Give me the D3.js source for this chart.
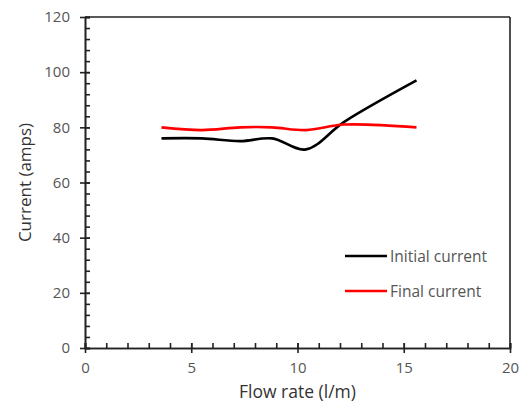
<!DOCTYPE html>
<html><head><meta charset="utf-8">
<script src="https://cdn.jsdelivr.net/npm/d3@7"></script>
<style>body{margin:0;background:#fff}svg{display:block}</style>
</head><body>
<svg id="c" width="526" height="412"></svg>
<script>
const flowRate = [3.6, 5.5, 7.3, 8.8, 10.4, 12.2, 15.6];
const initialCurrent = [76, 76, 75, 76, 72, 82, 97];
const finalCurrent = [80, 79, 80, 80, 79, 81, 80];
const xTicks = [0, 5, 10, 15, 20];
const yTicks = [0, 20, 40, 60, 80, 100, 120];
const seriesNames = ["Initial current", "Final current"];
const seriesColors = ["#000000", "#ff0000"];

const svg = d3.select("#c");
const m = {l: 85, r: 16, t: 17, b: 64};
const W = 526, H = 412;
const x = d3.scaleLinear().domain([0, 20]).range([m.l, W - m.r]);
const y = d3.scaleLinear().domain([0, 120]).range([H - m.b, m.t]);
const font = "'Open Sans', sans-serif";
const axisCol = "#222";
const textCol = "#555";

// frame (top and right)
svg.append("line").attr("x1", x(0)).attr("x2", x(20)).attr("y1", y(120)).attr("y2", y(120)).attr("stroke", axisCol).attr("stroke-width", 1.6);
svg.append("line").attr("x1", x(20)).attr("x2", x(20)).attr("y1", y(120)).attr("y2", y(0)).attr("stroke", axisCol).attr("stroke-width", 1.6);

// minor ticks
const gx = svg.append("g").attr("transform", `translate(0,${y(0)})`);
gx.call(d3.axisBottom(x).tickValues(d3.range(0, 21, 1)).tickSize(-5).tickFormat(""));
const gy = svg.append("g").attr("transform", `translate(${x(0)},0)`);
gy.call(d3.axisLeft(y).tickValues(d3.range(0, 121, 4)).tickSize(-5).tickFormat(""));
// major ticks
const gx2 = svg.append("g").attr("transform", `translate(0,${y(0)})`);
gx2.call(d3.axisBottom(x).tickValues(xTicks).tickSizeInner(5).tickSizeOuter(0).tickPadding(9).tickFormat(d3.format("d")));
gx2.selectAll(".tick line").attr("y1", -5);
const gy2 = svg.append("g").attr("transform", `translate(${x(0)},0)`);
gy2.call(d3.axisLeft(y).tickValues(yTicks).tickSizeInner(5).tickSizeOuter(0).tickPadding(10).tickFormat(d3.format("d")));
gy2.selectAll(".tick line").attr("x1", 5);

[gx, gy, gx2, gy2].forEach(g => {
  g.selectAll("path").attr("stroke", axisCol).attr("stroke-width", 1.6);
  g.selectAll("line").attr("stroke", axisCol).attr("stroke-width", 1.6);
  g.selectAll("text").attr("fill", textCol).style("font-family", font).style("font-size", "15px");
});

// lines
const line = d3.line().x(d => x(d[0])).y(d => y(d[1])).curve(d3.curveCatmullRom.alpha(0.5));
[initialCurrent, finalCurrent].forEach((vals, i) => {
  svg.append("path").datum(flowRate.map((f, j) => [f, vals[j]]))
    .attr("d", line).attr("fill", "none").attr("stroke", seriesColors[i]).attr("stroke-width", 2.6);
});

// axis titles
svg.append("text").attr("x", (x(0) + x(20)) / 2).attr("y", 398).attr("text-anchor", "middle")
  .attr("fill", "#333").style("font-family", font).style("font-size", "17.5px").text("Flow rate (l/m)");
svg.append("text").attr("transform", `translate(31,${(y(0) + y(120)) / 2}) rotate(-90)`).attr("text-anchor", "middle")
  .attr("fill", "#333").style("font-family", font).style("font-size", "17px").text("Current (amps)");

// legend
const lg = svg.append("g");
seriesNames.forEach((n, i) => {
  const ly = 256 + i * 35;
  lg.append("line").attr("x1", 345).attr("x2", 387).attr("y1", ly).attr("y2", ly)
    .attr("stroke", seriesColors[i]).attr("stroke-width", 2.6);
  lg.append("text").attr("x", 390).attr("y", ly + 5.5).attr("fill", textCol)
    .style("font-family", font).style("font-size", "15.5px").text(n);
});
</script>
</body></html>
